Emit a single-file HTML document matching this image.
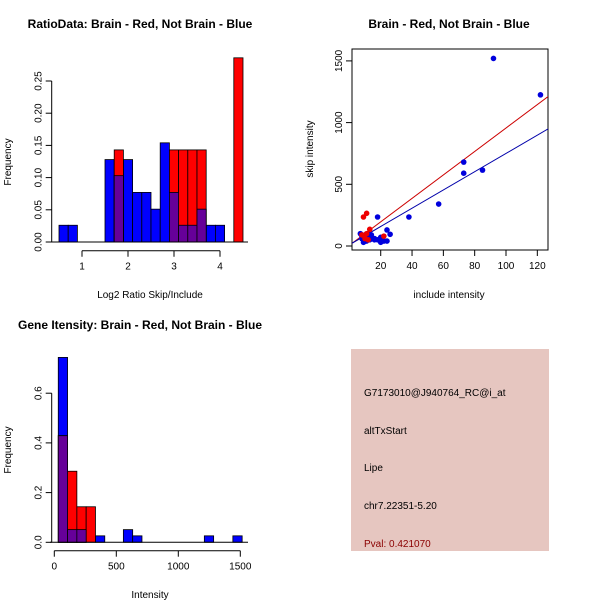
<!DOCTYPE html>
<html><head><meta charset="utf-8"><style>
body{margin:0;background:#fff}
svg{display:block;font-family:"Liberation Sans",sans-serif}
</style></head><body>
<svg id="c" width="600" height="600" viewBox="0 0 600 600">
<rect width="600" height="600" fill="#fff"/>
<g font-weight="bold" font-size="12" text-anchor="middle">
<text x="140" y="28">RatioData: Brain - Red, Not Brain - Blue</text>
<text x="449" y="28">Brain - Red, Not Brain - Blue</text>
<text x="140" y="329">Gene Itensity: Brain - Red, Not Brain - Blue</text>
</g>
<g font-size="10" text-anchor="middle">
<text x="150" y="298">Log2 Ratio Skip/Include</text>
<text transform="translate(11,162) rotate(-90)">Frequency</text>
<text x="449" y="298">include intensity</text>
<text transform="translate(313,149) rotate(-90)">skip intensity</text>
<text x="150" y="598">Intensity</text>
<text transform="translate(11,450) rotate(-90)">Frequency</text>
</g>
<g id="p1"></g><g id="p2"></g><g id="p3"></g>
<g>
<rect x="351" y="349" width="198" height="202" fill="#e6c6c0"/>
<g font-size="10">
<text x="364" y="396">G7173010@J940764_RC@i_at</text>
<text x="364" y="434">altTxStart</text>
<text x="364" y="471">Lipe</text>
<text x="364" y="509">chr7.22351-5.20</text>
<text x="364" y="547" fill="#8b0000">Pval: 0.421070</text>
</g></g>
</svg>
<script>
// ---- Ratio histogram data (bin width 0.2) ----
const ratioBlueStarts=[0.5,0.7,1.5,1.7,1.9,2.1,2.3,2.5,2.7,2.9,3.1,3.3,3.5,3.7,3.9];
const ratioBlueVals=[0.026,0.026,0.128,0.103,0.128,0.077,0.077,0.051,0.154,0.077,0.026,0.026,0.051,0.026,0.026];
const ratioRedStarts=[1.7,2.9,3.1,3.3,3.5,4.3];
const ratioRedVals=[0.143,0.143,0.143,0.143,0.143,0.286];
const ratioYTicks=["0.00","0.05","0.10","0.15","0.20","0.25"];
const ratioXTicks=[1,2,3,4];
// ---- Scatter data ----
const blueX=[92,122,73,73,85,57,38,18,24,26,20,22,20,24,7,8,9,10,11,12,13,14,15,16,9,11,13,8,10,12,14,16,18];
const blueY=[1520,1225,680,590,615,340,235,235,130,95,70,40,30,40,100,60,50,40,60,70,80,90,60,50,30,40,50,80,90,100,70,60,50];
const redX=[11,9,13,11,8,22,10,12];
const redY=[265,235,135,100,90,80,60,50];
const redLine=[6,9.5];   // intercept, slope
const blueLine=[10,7.4];
const scatterXTicks=[20,40,60,80,100,120];
const scatterYTicks=[0,500,1000,1500];
// ---- Intensity histogram data (bin width 75) ----
const intBlueStarts=[32,107,182,332,557,632,1210,1440];
const intBlueVals=[0.744,0.051,0.051,0.026,0.051,0.026,0.026,0.026];
const intRedStarts=[32,107,182,257];
const intRedVals=[0.429,0.286,0.143,0.143];
const intYTicks=["0.0","0.2","0.4","0.6"];
const intXTicks=[0,500,1000,1500];

const NS="http://www.w3.org/2000/svg";
function mk(parent,tag,attrs){const e=document.createElementNS(NS,tag);for(const k in attrs)e.setAttribute(k,attrs[k]);parent.appendChild(e);return e;}

function hist(g,cfg){
  const {bs,bv,rs,rv,w,sx,sy,yTicks,yStep,xTicks,name}=cfg;
  const bmap={};bs.forEach((s,i)=>bmap[s.toFixed(2)]=bv[i]);
  const rmap={};rs.forEach((s,i)=>rmap[s.toFixed(2)]=rv[i]);
  const draw=(s,v,col,nm)=>{const r=mk(g,'rect',{x:sx(s),y:sy(v),width:sx(s+w)-sx(s),height:sy(0)-sy(v),fill:col,stroke:'#000','stroke-width':0.8});
    
    };
  bs.forEach((s,i)=>draw(s,bv[i],'#0000ff',name+'-blue-bar'));
  rs.forEach((s,i)=>draw(s,rv[i],'#ff0000',name+'-red-bar'));
  rs.forEach((s,i)=>{const b=bmap[s.toFixed(2)];if(b)draw(s,Math.min(b,rv[i]),'#660099',name+'-overlap-bar');});
  const bl=mk(g,'line',{x1:cfg.baseL,x2:cfg.baseR,y1:sy(0),y2:sy(0),stroke:'#000'});
  
  
  // y axis
  const ax=cfg.axX;
  const ya=mk(g,'line',{x1:ax,x2:ax,y1:sy(0),y2:sy(yStep*(yTicks.length-1)),stroke:'#000'});
  
  
  yTicks.forEach((t,i)=>{const y=sy(i*yStep);mk(g,'line',{x1:ax-6,x2:ax,y1:y,y2:y,stroke:'#000'});
    const tx=mk(g,'text',{transform:`translate(${ax-10},${y}) rotate(-90)`,'font-size':10,'text-anchor':'middle'});tx.textContent=t;
    
    });
  const ay=cfg.axY;
  const xa=mk(g,'line',{x1:sx(xTicks[0]),x2:sx(xTicks[xTicks.length-1]),y1:ay,y2:ay,stroke:'#000'});
  
  
  xTicks.forEach(t=>{const x=sx(t);mk(g,'line',{x1:x,x2:x,y1:ay,y2:ay+6,stroke:'#000'});
    const tx=mk(g,'text',{x:x,y:ay+19,'font-size':10,'text-anchor':'middle'});tx.textContent=t;
    
    });
}
hist(document.getElementById('p1'),{bs:ratioBlueStarts,bv:ratioBlueVals,rs:ratioRedStarts,rv:ratioRedVals,w:0.2,
  sx:v=>82+(v-1)*46, sy:v=>242-v*644,yTicks:ratioYTicks,yStep:0.05,xTicks:ratioXTicks,axX:51.7,axY:250.7,baseL:50,baseR:248,name:'ratio'});
hist(document.getElementById('p3'),{bs:intBlueStarts,bv:intBlueVals,rs:intRedStarts,rv:intRedVals,w:75,
  sx:v=>54.3+v*0.124, sy:v=>542.3-v*248.5,yTicks:intYTicks,yStep:0.2,xTicks:intXTicks,axX:51.7,axY:550.7,baseL:50,baseR:248,name:'intensity'});

// scatter
(function(){
  const g=document.getElementById('p2');
  const sx=v=>349.4+v*1.566, sy=v=>246-v*0.1234;
  const box=mk(g,'rect',{x:352,y:49,width:196,height:201,fill:'none',stroke:'#000'});
  
  
  const cp=mk(g,'clipPath',{id:'cl'});mk(cp,'rect',{x:352,y:49,width:196,height:201});
  const lg=mk(g,'g',{'clip-path':'url(#cl)'});
  [[redLine,'#cc0000','red-fit-line'],[blueLine,'#0000aa','blue-fit-line']].forEach(([l,c,n])=>{
    const ln=mk(lg,'line',{x1:sx(0),y1:sy(l[0]),x2:sx(130),y2:sy(l[0]+l[1]*130),stroke:c,'stroke-width':1});
    
    });
  blueX.forEach((x,i)=>{const c=mk(g,'circle',{cx:sx(x),cy:sy(blueY[i]),r:2.8,fill:'#0000dd'});
    
    });
  redX.forEach((x,i)=>{const c=mk(g,'circle',{cx:sx(x),cy:sy(redY[i]),r:2.8,fill:'#ee0000'});
    
    });
  scatterXTicks.forEach(t=>{const x=sx(t);mk(g,'line',{x1:x,x2:x,y1:250,y2:256,stroke:'#000'});
    const tx=mk(g,'text',{x:x,y:269,'font-size':10,'text-anchor':'middle'});tx.textContent=t;
    
    });
  scatterYTicks.forEach(t=>{const y=sy(t);mk(g,'line',{x1:346,x2:352,y1:y,y2:y,stroke:'#000'});
    const tx=mk(g,'text',{transform:`translate(342,${y}) rotate(-90)`,'font-size':10,'text-anchor':'middle'});tx.textContent=t;
    
    });
})();
</script>
</body></html>
